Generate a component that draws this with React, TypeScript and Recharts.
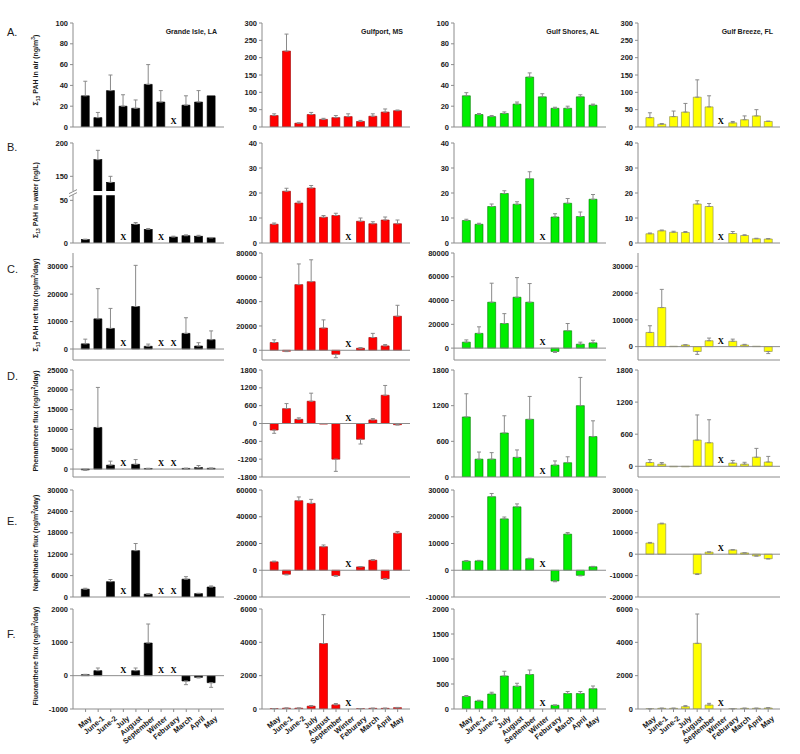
import React from 'react';
import { ComposedChart, Bar, ErrorBar, XAxis, YAxis, ReferenceLine, Line } from 'recharts';

const months = ['May', 'June-1', 'June-2', 'July', 'August', 'September', 'Winter', 'Feburary', 'March', 'April', 'May'];
const sites = ['Grande Isle, LA', 'Gulfport, MS', 'Gulf Shores, AL', 'Gulf Breeze, FL'];

// A. sum PAH in air (ng/m3)
const airLA = [30, 9, 35, 20, 18, 41, 24, null, 21, 24, 30];
const airLAErr = [14, 5, 15, 11, 8, 19, 11, 0, 9, 11, 0];
const airMS = [33, 219, 11, 36, 22, 27, 30, 16, 31, 43, 47];
const airMSErr = [5, 49, 1, 6, 3, 6, 8, 3, 7, 9, 2];
const airAL = [30, 12, 10, 13, 22, 48, 29, 18, 18, 29, 21];
const airALErr = [3, 1, 1, 1.5, 2, 4, 3, 1, 2, 2, 1];
const airFL = [27, 8, 30, 43, 86, 58, null, 12, 21, 32, 16];
const airFLErr = [14, 2, 16, 25, 50, 32, 0, 4, 11, 18, 1];
const airMarks = [[7], [], [], [6]];
const airDomains = [[0, 100], [0, 300], [0, 100], [0, 300]];
const airTicks = [[0, 20, 40, 60, 80, 100], [0, 50, 100, 150, 200, 250, 300], [0, 20, 40, 60, 80, 100], [0, 50, 100, 150, 200, 250, 300]];

// B. sum PAH in water (ng/L)
const waterLA = [4, 175, 141, null, 22, 16, null, 7, 8.5, 8, 6];
const waterLAErr = [0.5, 14, 9, 0, 2, 1, 0, 1, 1, 1, 0.5];
const waterMS = [7.5, 20.7, 16, 22, 10.3, 11, null, 8.7, 7.7, 9.2, 7.7];
const waterMSErr = [0.5, 1.2, 0.7, 1, 0.7, 0.9, 0, 1.3, 0.8, 1.2, 1.5];
const waterAL = [9, 7.5, 14.6, 19.8, 15.5, 25.7, null, 10.4, 15.9, 10.6, 17.5];
const waterALErr = [0.5, 0.4, 1, 1.1, 1, 2.8, 0, 1.3, 1.9, 1.8, 1.9];
const waterFL = [3.7, 4.9, 4.3, 4.2, 15.6, 14.6, null, 3.8, 3, 1.7, 1.6];
const waterFLErr = [0.3, 0.3, 0.4, 0.4, 1.3, 1.2, 0, 0.8, 0.3, 0.2, 0.2];
const waterMarks = [[3, 6], [6], [6], [6]];
const waterDomains = [[0, 200], [0, 40], [0, 40], [0, 40]];
const waterTicks = [[0, 50, 150, 200], [0, 10, 20, 30, 40], [0, 10, 20, 30, 40], [0, 10, 20, 30, 40]];

// C. sum PAH net flux (ng/m2/day)
const netLA = [1900, 11000, 7500, null, 15500, 1000, null, null, 5700, 1100, 3400];
const netLAErr = [1700, 11000, 7300, 0, 15000, 800, 0, 0, 5700, 1200, 3200];
const netMS = [6400, -800, 54000, 56400, 18300, -3300, null, 1700, 10500, 3600, 28000];
const netMSErr = [2200, 300, 17000, 18000, 6700, 2800, 0, 500, 3400, 1100, 9000];
const netAL = [5000, 12400, 38600, 20700, 42800, 38600, null, -2800, 14600, 3300, 4400];
const netALErr = [1900, 5500, 16000, 8300, 16500, 15700, 0, 800, 6100, 1700, 2200];
const netFL = [5300, 14600, 150, 600, -1800, 2200, null, 2000, 600, 150, -1800];
const netFLErr = [2500, 6800, 0, 100, 1100, 1000, 0, 800, 250, 0, 800];
const netMarks = [[3, 6, 7], [6], [6], [6]];
const netDomains = [[-4000, 35000], [-8000, 80000], [-10000, 80000], [-5000, 35000]];
const netTicks = [[0, 10000, 20000, 30000], [0, 20000, 40000, 60000, 80000], [0, 20000, 40000, 60000, 80000], [0, 10000, 20000, 30000]];

// D. phenanthrene flux
const phenLA = [-200, 10500, 1000, null, 1200, 150, null, null, 170, 400, 200];
const phenLAErr = [100, 10100, 1000, 0, 1200, 50, 0, 0, 50, 500, 50];
const phenMS = [-220, 500, 140, 750, -20, -1200, null, -530, 120, 950, -40];
const phenMSErr = [110, 170, 50, 270, 0, 410, 0, 160, 45, 330, 10];
const phenAL = [1010, 300, 300, 740, 330, 970, null, 200, 240, 1200, 680];
const phenALErr = [390, 120, 110, 290, 125, 385, 0, 70, 100, 475, 265];
const phenFL = [70, 40, -10, -10, 490, 440, null, 60, 40, 170, 80];
const phenFLErr = [55, 30, 0, 0, 470, 430, 0, 50, 35, 165, 105];
const phenMarks = [[3, 6, 7], [6], [6], [6]];
const phenDomains = [[-2000, 25000], [-1800, 1800], [0, 1800], [-200, 1800]];
const phenTicks = [[0, 5000, 10000, 15000, 20000, 25000], [-1800, -1200, -600, 0, 600, 1200, 1800], [0, 600, 1200, 1800], [0, 600, 1200, 1800]];

// E. naphthalene flux
const naphLA = [2200, null, 4300, null, 13000, 800, null, null, 5000, 950, 2800];
const naphLAErr = [250, 0, 600, 0, 2000, 100, 0, 0, 700, 100, 300];
const naphMS = [6300, -3000, 52000, 50000, 17600, -4000, null, 2500, 7500, -6300, 27700];
const naphMSErr = [500, 500, 2800, 3000, 1300, 500, 0, 300, 500, 500, 1300];
const naphAL = [3400, 3500, 27500, 19200, 23700, 4300, null, -4000, 13500, -1900, 1300];
const naphALErr = [250, 200, 1200, 700, 1100, 200, 0, 300, 600, 200, 150];
const naphFL = [5200, 14200, null, null, -9200, 950, null, 2000, 600, -800, -2100];
const naphFLErr = [300, 300, 0, 0, 300, 100, 0, 100, 50, 50, 100];
const naphMarks = [[3, 6, 7], [6], [6], [6]];
const naphDomains = [[0, 30000], [-20000, 60000], [-10000, 30000], [-20000, 30000]];
const naphTicks = [[0, 6000, 12000, 18000, 24000, 30000], [-20000, 0, 20000, 40000, 60000], [-10000, 0, 10000, 20000, 30000], [-20000, -10000, 0, 10000, 20000, 30000]];

// F. fluoranthene flux
const fluoLA = [30, 150, null, null, 150, 980, null, null, -160, -50, -210];
const fluoLAErr = [10, 80, 0, 0, 80, 570, 0, 0, 110, 20, 140];
const fluoMS = [20, 50, 50, 170, 3930, 250, null, 20, 40, 40, 80];
const fluoMSErr = [5, 10, 10, 40, 1730, 80, 0, 5, 10, 10, 15];
const fluoAL = [250, 160, 300, 660, 455, 690, null, 75, 310, 310, 405];
const fluoALErr = [20, 15, 35, 95, 60, 90, 0, 5, 40, 40, 55];
const fluoFL = [10, 40, 40, 140, 3940, 240, null, 10, 40, 40, 60];
const fluoFLErr = [5, 10, 10, 60, 1760, 100, 0, 5, 10, 10, 20];
const fluoMarks = [[3, 6, 7], [6], [6], [6]];
const fluoDomains = [[-1000, 2000], [0, 6000], [0, 2000], [0, 6000]];
const fluoTicks = [[-1000, 0, 1000, 2000], [0, 2000, 4000, 6000], [0, 500, 1000, 1500, 2000], [0, 2000, 4000, 6000]];

const ROW_SPECS = [
  { values: [airLA, airMS, airAL, airFL], errors: [airLAErr, airMSErr, airALErr, airFLErr], marks: airMarks, domains: airDomains, ticks: airTicks },
  { values: [waterLA, waterMS, waterAL, waterFL], errors: [waterLAErr, waterMSErr, waterALErr, waterFLErr], marks: waterMarks, domains: waterDomains, ticks: waterTicks },
  { values: [netLA, netMS, netAL, netFL], errors: [netLAErr, netMSErr, netALErr, netFLErr], marks: netMarks, domains: netDomains, ticks: netTicks },
  { values: [phenLA, phenMS, phenAL, phenFL], errors: [phenLAErr, phenMSErr, phenALErr, phenFLErr], marks: phenMarks, domains: phenDomains, ticks: phenTicks },
  { values: [naphLA, naphMS, naphAL, naphFL], errors: [naphLAErr, naphMSErr, naphALErr, naphFLErr], marks: naphMarks, domains: naphDomains, ticks: naphTicks },
  { values: [fluoLA, fluoMS, fluoAL, fluoFL], errors: [fluoLAErr, fluoMSErr, fluoALErr, fluoFLErr], marks: fluoMarks, domains: fluoDomains, ticks: fluoTicks },
];

// layout
const FONT = '"Liberation Sans", Arial, sans-serif';
const FRAME = '#8c8c8c';
const TEXT = '#1a1a1a';
const YW = 40;
const MT = 6;
const MR = 2;
const COLS = [
  { left: 73, width: 151, fill: '#000000', stroke: '#000000' },
  { left: 262, width: 148, fill: '#ff0000', stroke: '#a00000' },
  { left: 454, width: 152, fill: '#00ee00', stroke: '#007a00' },
  { left: 638, width: 142, fill: '#ffff00', stroke: '#8a8a4a' },
];
const ROWS = [
  { top: 23, height: 104 },
  { top: 143, height: 100 },
  { top: 253, height: 107 },
  { top: 370, height: 107 },
  { top: 490, height: 107 },
  { top: 609, height: 100 },
];

// broken axis of the water / Grande Isle panel (value -> px-like units out of 100)
const BRK_LO = 56;
const BRK_HI = 128;
const K1 = 0.853;
const K2 = 0.667;
const T_LO = BRK_LO * K1;
const T_HI = 52;
const T_MID = (T_LO + T_HI) / 2;
const brk = (v: number) => {
  if (v <= BRK_LO) return v * K1;
  if (v >= BRK_HI) return T_HI + (v - BRK_HI) * K2;
  return T_LO + ((v - BRK_LO) * (T_HI - T_LO)) / (BRK_HI - BRK_LO);
};
const unbrk = (t: number) => (t <= T_LO + 0.01 ? t / K1 : BRK_HI + (t - T_HI) / K2);

const tickStyle = { fill: TEXT, fontSize: 7.5, fontWeight: 700, fontFamily: FONT };

const renderMark = (props: any) => {
  const { cx, cy, value, index } = props;
  if (value == null || cx == null || cy == null) return <g key={`m${index}`} />;
  return (
    <text key={`m${index}`} x={cx} y={cy - 6} textAnchor="middle" dominantBaseline="central"
      fontFamily='"Liberation Serif", serif' fontWeight={700} fontSize={8.5} fill="#000">X</text>
  );
};

const renderMonth = (props: any) => {
  const { x, y, payload } = props;
  return (
    <g transform={`translate(${x + 3},${y + 1}) rotate(-40)`}>
      <text x={0} y={0} textAnchor="end" dominantBaseline="hanging" {...tickStyle}>{months[payload.value]}</text>
    </g>
  );
};

const BrokenBar = (props: any) => {
  const { x, y, width, height, fill, stroke } = props;
  if (!height || height <= 0) return <g />;
  const base = y + height;
  const k = ROWS[1].height / 100;
  return (
    <g>
      <rect x={x} y={y} width={width} height={height} fill={fill} stroke={stroke} strokeWidth={0.6} />
      {height > T_HI * k && <rect x={x - 1} y={base - T_HI * k} width={width + 2} height={(T_HI - T_LO) * k} fill="#fff" />}
    </g>
  );
};

const BreakTickLeft = (props: any) => {
  const { x, y, payload } = props;
  const ax = x + 3 + 2;
  if (Math.abs(payload.value - T_MID) < 0.01) {
    return (
      <g>
        <rect x={ax - 2} y={y - 2} width={4} height={4} fill="#fff" />
        <line x1={ax - 4} y1={y + 0.5} x2={ax + 4} y2={y - 3.5} stroke={FRAME} />
        <line x1={ax - 4} y1={y + 3.5} x2={ax + 4} y2={y - 0.5} stroke={FRAME} />
      </g>
    );
  }
  return (
    <g>
      <line x1={ax - 3} y1={y} x2={ax} y2={y} stroke={FRAME} />
      <text x={x} y={y} dy="0.35em" textAnchor="end" {...tickStyle}>{Math.round(unbrk(payload.value))}</text>
    </g>
  );
};

const BreakTickRight = (props: any) => {
  const { x, y } = props;
  return (
    <g>
      <rect x={x - 2} y={y - 2} width={4} height={4} fill="#fff" />
      <line x1={x - 4} y1={y + 0.5} x2={x + 4} y2={y - 3.5} stroke={FRAME} />
      <line x1={x - 4} y1={y + 3.5} x2={x + 4} y2={y - 0.5} stroke={FRAME} />
    </g>
  );
};

function Panel({ row, col }: { row: number; col: number }) {
  const spec = ROW_SPECS[row];
  const g = ROWS[row];
  const c = COLS[col];
  const broken = row === 1 && col === 0;
  const f = broken ? brk : (v: number) => v;
  const values = spec.values[col];
  const errors = spec.errors[col];
  const marks = spec.marks[col];
  const data = months.map((m, i) => {
    const v = values[i];
    const e = errors[i];
    let err: number[] | null = null;
    if (v != null && e > 0) err = v >= 0 ? [0, f(v + e) - f(v)] : [f(v) - f(v - e), 0];
    return { i, name: m, value: v == null ? null : f(v), err, mark: marks.includes(i) ? 0 : null };
  });
  const bottom = row === 5;
  const xh = bottom ? 50 : 5;
  const slot = c.width / 12;
  const domain = broken ? [0, 100] : spec.domains[col];
  const ticks = broken ? [...spec.ticks[col].map(brk), T_MID].sort((a, b) => a - b) : spec.ticks[col];
  return (
    <div style={{ position: 'absolute', left: c.left - YW, top: g.top - MT }}>
      <ComposedChart width={YW + c.width + MR} height={MT + g.height + xh} data={data}
        margin={{ top: MT, right: MR, left: 0, bottom: 0 }}>
        <XAxis dataKey="i" type="category" interval={0} padding={{ left: slot / 2, right: slot / 2 }}
          height={xh} tickSize={3} tickLine={{ stroke: FRAME }} axisLine={{ stroke: FRAME }}
          tick={bottom ? renderMonth : false} />
        <XAxis xAxisId="top" orientation="top" dataKey="i" height={0} tick={false} tickLine={false}
          axisLine={{ stroke: FRAME }} />
        <YAxis type="number" domain={domain} ticks={ticks} allowDataOverflow interval={0} width={YW}
          tickSize={3} tickMargin={2} tickLine={broken ? false : { stroke: FRAME }} axisLine={{ stroke: FRAME }}
          tick={broken ? <BreakTickLeft /> : tickStyle} />
        <YAxis yAxisId="right" orientation="right" type="number" domain={domain} allowDataOverflow width={0}
          ticks={broken ? [T_MID] : undefined} tickSize={0} tickMargin={0} tickLine={false}
          axisLine={{ stroke: FRAME }} tick={broken ? <BreakTickRight /> : false} />
        {domain[0] < 0 && <ReferenceLine y={0} stroke={FRAME} strokeWidth={1} />}
        <Bar dataKey="value" barSize={8} fill={c.fill} stroke={c.stroke} strokeWidth={0.6}
          isAnimationActive={false} shape={broken ? BrokenBar : undefined}>
          <ErrorBar dataKey="err" width={2} stroke="#8a8a8a" strokeWidth={1} direction="y" />
        </Bar>
        <Line dataKey="mark" stroke="none" dot={renderMark} activeDot={false} legendType="none"
          isAnimationActive={false} />
      </ComposedChart>
    </div>
  );
}

const rowLetters = [
  { label: 'A.', y: 36 },
  { label: 'B.', y: 151 },
  { label: 'C.', y: 273 },
  { label: 'D.', y: 380 },
  { label: 'E.', y: 525 },
  { label: 'F.', y: 638 },
];

const titleCenters = [70, 200, 305, 421, 543, 656];

const sub = (s: string) => <tspan fontSize={5} dy={2}>{s}</tspan>;
const sup = (s: string) => <tspan fontSize={5} dy={-3}>{s}</tspan>;

const yTitles = [
  <>Σ{sub('13')}<tspan dy={-2}> PAH in air (ng/m</tspan>{sup('3')}<tspan dy={3}>)</tspan></>,
  <>Σ{sub('13')}<tspan dy={-2}> PAH in water (ng/L)</tspan></>,
  <>Σ{sub('13')}<tspan dy={-2}> PAH net flux (ng/m</tspan>{sup('2')}<tspan dy={3}>/day)</tspan></>,
  <>Phenanthrene flux (ng/m{sup('2')}<tspan dy={3}>/day)</tspan></>,
  <>Naphthalene flux (ng/m{sup('2')}<tspan dy={3}>/day)</tspan></>,
  <>Fluoranthene flux (ng/m{sup('2')}<tspan dy={3}>/day)</tspan></>,
];

export default function App() {
  return (
    <div style={{ position: 'absolute', left: 0, top: 0, width: 800, height: 754, background: '#fff' }}>
      {ROWS.map((_, r) => COLS.map((__, c) => <Panel key={`${r}-${c}`} row={r} col={c} />))}
      <svg width={800} height={754} style={{ position: 'absolute', left: 0, top: 0, pointerEvents: 'none' }}>
        {rowLetters.map((l) => (
          <text key={l.label} x={7} y={l.y} fontSize={11} fontFamily={FONT} fill={TEXT}>{l.label}</text>
        ))}
        {yTitles.map((t, r) => (
          <text key={r} transform={`translate(38,${titleCenters[r]}) rotate(-90)`} textAnchor="middle"
            fontSize={7} fontWeight={700} fontFamily={FONT} fill={TEXT}>{t}</text>
        ))}
        {sites.map((s, c) => (
          <text key={s} x={COLS[c].left + COLS[c].width - 7} y={34} textAnchor="end"
            fontSize={7} fontWeight={700} fontFamily={FONT} fill={TEXT}>{s}</text>
        ))}
      </svg>
    </div>
  );
}
